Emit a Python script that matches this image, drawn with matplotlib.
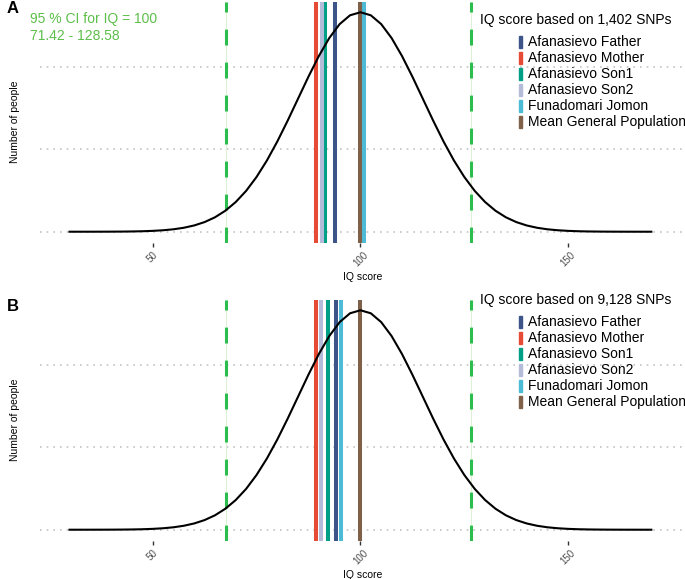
import numpy as np
import matplotlib.pyplot as plt
from matplotlib.patches import Rectangle

plt.rcParams['font.family'] = ['Liberation Sans', 'DejaVu Sans']

# ----- data ----- #
# population curve (mean 100, sd 15), read every 2.5 IQ points, density x 1000
iq_grid = np.arange(30, 170.1, 2.5)
density_per_1000 = [0.0005, 0.0011, 0.0022, 0.0045, 0.0089, 0.0171, 0.032, 0.058,
                    0.103, 0.177, 0.295, 0.480, 0.760, 1.169, 1.748, 2.544, 3.600,
                    4.952, 6.632, 8.634, 10.934, 13.467, 16.131, 18.794, 21.297,
                    23.471, 25.159, 26.229, 26.596,
                    26.229, 25.159, 23.471, 21.297, 18.794, 16.131, 13.467, 10.934,
                    8.634, 6.632, 4.952, 3.600, 2.544, 1.748, 1.169, 0.760, 0.480,
                    0.295, 0.177, 0.103, 0.058, 0.032, 0.0171, 0.0089, 0.0045,
                    0.0022, 0.0011, 0.0005]

individuals = ['Afanasievo Father', 'Afanasievo Mother', 'Afanasievo Son1',
               'Afanasievo Son2', 'Funadomari Jomon', 'Mean General Population']
ind_colors = ['#3C5488', '#E64B35', '#00A087', '#B4BCD9', '#4DBBD5', '#7E6148']
iq_1402_snps = [93.8, 89.4, 91.5, 90.7, 100.9, 100.0]
iq_9128_snps = [94.1, 89.4, 92.3, 90.5, 95.4, 100.0]

ci_lines = [67.7, 126.6]   # where the dashed CI lines are drawn
ci_label = "95 % CI for IQ = 100\n71.42 - 128.58"
x_ticks = [50, 100, 150]
y_grid = [0, 0.01, 0.02]

W, H = 685, 579
fig = plt.figure(figsize=(W / 100, H / 100), dpi=100)


def fx(px):
    return px / W


def fy(py):
    return 1 - py / H


def draw_panel(top_px, bottom_px, scores, n_snps, letter, show_ci, legend_y):
    ax = fig.add_axes([fx(40), fy(bottom_px), fx(685 - 40), (bottom_px - top_px) / H])
    ax.set_xlim(22.9, 178.1)
    ax.set_ylim(-0.00133, 0.0279)
    for s in ax.spines.values():
        s.set_visible(False)
    ax.set_yticks(y_grid)
    ax.set_yticklabels([])
    ax.tick_params(axis='y', length=0)
    ax.yaxis.grid(True, color='#c4c4c4', linewidth=1.2, linestyle=(0, (1, 3)))
    ax.set_axisbelow(True)
    ax.set_xticks(x_ticks)
    ax.set_xticklabels([str(t) for t in x_ticks], rotation=45, ha='center', va='top')
    ax.tick_params(axis='x', length=3, width=1.0, color='#333333', labelsize=7,
                   labelcolor='#4d4d4d', pad=2)
    ax.set_xlabel('IQ score', fontsize=7.5, labelpad=3)
    ax.set_ylabel('Number of people', fontsize=7.5, labelpad=11)

    # dashed CI lines
    for v in ci_lines:
        ax.axvline(v, color='#d6efc9', linewidth=0.6, zorder=1)
        ax.axvline(v, color='#2dbd4e', linewidth=2.2, linestyle=(0, (5.2, 5.6)), zorder=2)

    # individual scores
    for sc, c in zip(scores, ind_colors):
        ax.axvline(sc, color=c, linewidth=2.9, zorder=3)

    ax.plot(iq_grid, np.array(density_per_1000) / 1000, color='black', linewidth=1.5, zorder=4)

    fig.text(fx(7), fy(top_px + 7), letter, fontsize=12, fontweight='bold', va='center', ha='left')
    if show_ci:
        fig.text(fx(30), fy(top_px + 26), ci_label, fontsize=10, color='#5cbf4a',
                 va='center', ha='left', linespacing=1.25)

    # legend
    fig.text(fx(480), fy(legend_y), f'IQ score based on {n_snps} SNPs', fontsize=10,
             va='center', ha='left')
    for i, (name, c) in enumerate(zip(individuals, ind_colors)):
        yy = legend_y + 22 + 16 * i
        fig.patches.append(Rectangle((fx(519), fy(yy + 6)), 3 / W, 12 / H,
                                     transform=fig.transFigure, color=c))
        fig.text(fx(528), fy(yy), name, fontsize=10, va='center', ha='left')
    return ax


draw_panel(1.5, 242.7, iq_1402_snps, '1,402', 'A', True, 20)
draw_panel(299.5, 540.7, iq_9128_snps, '9,128', 'B', False, 300)

fig.savefig('out.png', dpi=100)
